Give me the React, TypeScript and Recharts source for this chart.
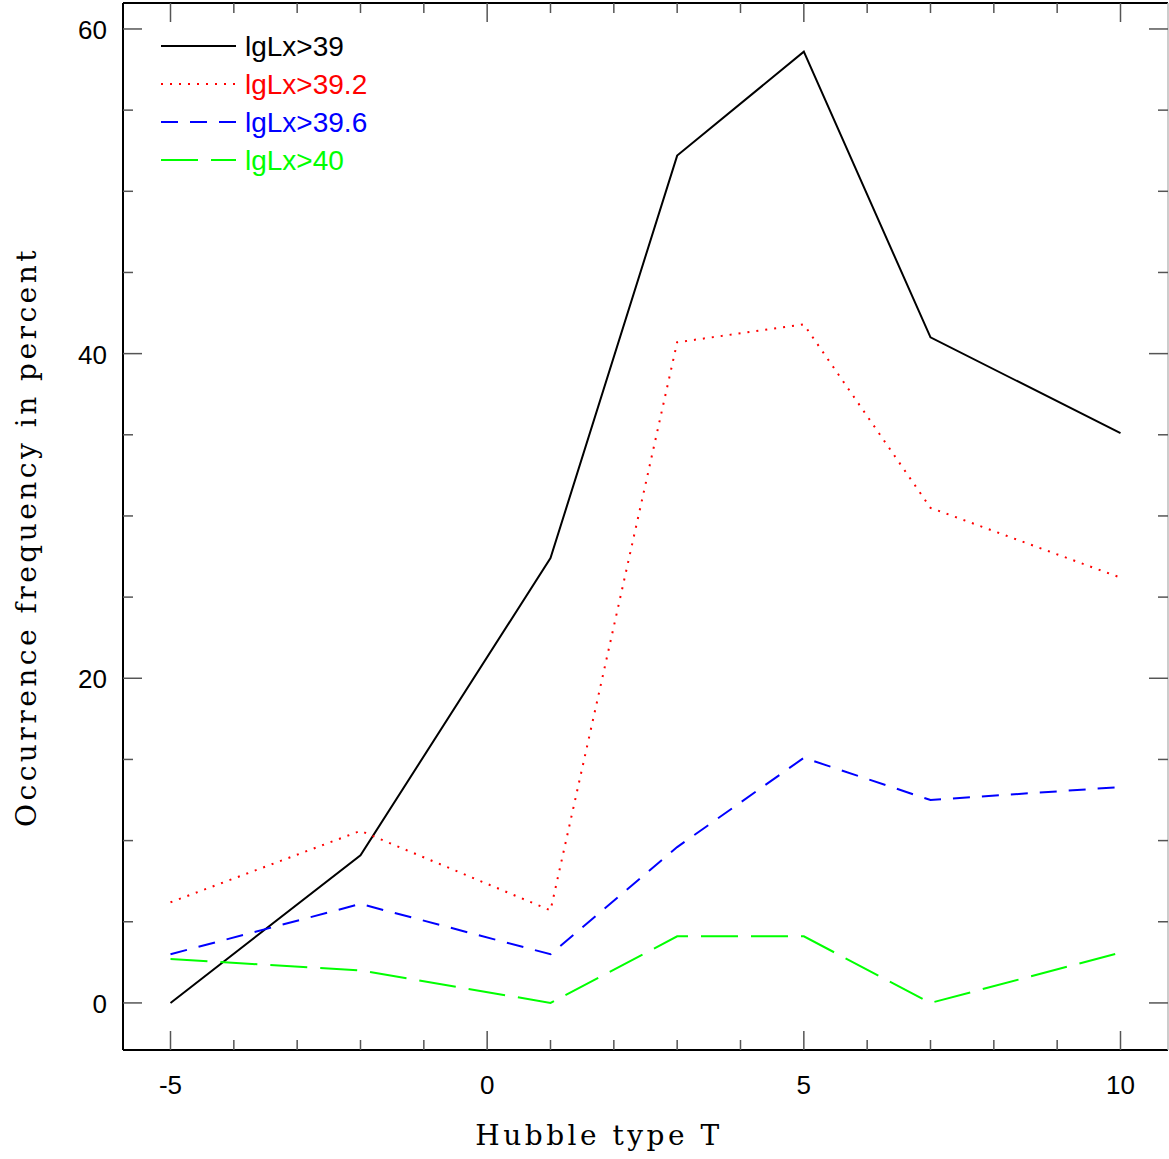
import React from "react";
import { LineChart, Line, XAxis, YAxis } from "recharts";

const hubbleT = [-5, -2, 1, 3, 5, 7, 10];
const lx39 = [0, 9.1, 27.4, 52.2, 58.6, 41.0, 35.1];
const lx392 = [6.2, 10.6, 5.7, 40.7, 41.8, 30.5, 26.2];
const lx396 = [3.0, 6.1, 3.0, 9.6, 15.1, 12.5, 13.3];
const lx40 = [2.7, 2.0, 0, 4.1, 4.1, 0, 3.1];

const xTicks = [-5, -4, -3, -2, -1, 0, 1, 2, 3, 4, 5, 6, 7, 8, 9, 10];
const yTicks = [0, 5, 10, 15, 20, 25, 30, 35, 40, 45, 50, 55, 60];

const series = [
  { key: "a", name: "lgLx>39", color: "#000000", dash: undefined as string | undefined },
  { key: "b", name: "lgLx>39.2", color: "#ff0000", dash: "2 7" },
  { key: "c", name: "lgLx>39.6", color: "#0000ff", dash: "17 12" },
  { key: "d", name: "lgLx>40", color: "#00ff00", dash: "37 13" },
];

const data = hubbleT.map((t, i) => ({ t, a: lx39[i], b: lx392[i], c: lx396[i], d: lx40[i] }));

const tickFont = "'Liberation Sans', Arial, sans-serif";
const serif = "'DejaVu Serif', 'Liberation Serif', serif";
const tickColor = "#555";

function BottomTick(props: any) {
  const { x, payload } = props;
  const v = payload.value;
  const major = v % 5 === 0;
  return (
    <g>
      <line x1={x} x2={x} y1={1050} y2={1050 - (major ? 19 : 10)} stroke={tickColor} strokeWidth={1.5} />
      {major && (
        <text x={x} y={1094} textAnchor="middle" fontFamily={tickFont} fontSize={26} fill="#000">
          {v}
        </text>
      )}
    </g>
  );
}

function TopTick(props: any) {
  const { x, payload } = props;
  const major = payload.value % 5 === 0;
  return <line x1={x} x2={x} y1={3} y2={3 + (major ? 19 : 10)} stroke={tickColor} strokeWidth={1.5} />;
}

function LeftTick(props: any) {
  const { y, payload } = props;
  const v = payload.value;
  const major = v % 20 === 0;
  return (
    <g>
      <line x1={123} x2={123 + (major ? 19 : 10)} y1={y} y2={y} stroke={tickColor} strokeWidth={1.5} />
      {major && (
        <text x={107} y={y + 10} textAnchor="end" fontFamily={tickFont} fontSize={26} fill="#000">
          {v}
        </text>
      )}
    </g>
  );
}

function RightTick(props: any) {
  const { y, payload } = props;
  const major = payload.value % 20 === 0;
  return <line x1={1168} x2={1168 - (major ? 19 : 10)} y1={y} y2={y} stroke={tickColor} strokeWidth={1.5} />;
}

function LegendBox() {
  return (
    <g>
      {series.map((s, i) => {
        const y = 46 + i * 38;
        return (
          <g key={s.key}>
            <line x1={161} x2={236} y1={y} y2={y} stroke={s.color} strokeWidth={2} strokeDasharray={s.dash} />
            <text x={245} y={y + 10} fontFamily={tickFont} fontSize={28} fill={s.color}>
              {s.name}
            </text>
          </g>
        );
      })}
    </g>
  );
}

export default function App() {
  return (
    <div style={{ position: "absolute", left: 0, top: 0, width: 1169, height: 1159, background: "#fff" }}>
      <LineChart width={1169} height={1159} data={data} margin={{ top: 2, right: 0, bottom: 108, left: 122 }}>
        <XAxis
          xAxisId="bottom"
          dataKey="t"
          type="number"
          domain={[-5.75, 10.75]}
          ticks={xTicks}
          allowDataOverflow
          height={1}
          tickSize={0}
          tickMargin={0}
          tickLine={false}
          axisLine={{ stroke: "#000", strokeWidth: 2 }}
          tick={<BottomTick />}
          interval={0}
        />
        <XAxis
          xAxisId="top"
          orientation="top"
          dataKey="t"
          type="number"
          domain={[-5.75, 10.75]}
          ticks={xTicks}
          allowDataOverflow
          height={1}
          tickSize={0}
          tickMargin={0}
          tickLine={false}
          axisLine={{ stroke: "#000", strokeWidth: 2 }}
          tick={<TopTick />}
          interval={0}
        />
        <YAxis
          yAxisId="left"
          type="number"
          domain={[-2.9, 61.6]}
          ticks={yTicks}
          allowDataOverflow
          width={1}
          tickSize={0}
          tickMargin={0}
          tickLine={false}
          axisLine={{ stroke: "#000", strokeWidth: 2 }}
          tick={<LeftTick />}
          interval={0}
        />
        <YAxis
          yAxisId="right"
          orientation="right"
          type="number"
          domain={[-2.9, 61.6]}
          ticks={yTicks}
          allowDataOverflow
          width={1}
          tickSize={0}
          tickMargin={0}
          tickLine={false}
          axisLine={{ stroke: "#bbb", strokeWidth: 1.5 }}
          tick={<RightTick />}
          interval={0}
        />
        {series.map((s) => (
          <Line
            key={s.key}
            xAxisId="bottom"
            yAxisId="left"
            type="linear"
            dataKey={s.key}
            name={s.name}
            stroke={s.color}
            strokeWidth={2}
            strokeDasharray={s.dash}
            dot={false}
            activeDot={false}
            isAnimationActive={false}
          />
        ))}
        <LegendBox />
        <text x={599} y={1145} textAnchor="middle" fontFamily={serif} fontSize={28} letterSpacing={3.5} fill="#000">
          Hubble type T
        </text>
        <text
          x={36}
          y={537}
          textAnchor="middle"
          fontFamily={serif}
          fontSize={28}
          letterSpacing={3.5}
          fill="#000"
          transform="rotate(-90 36 537)"
        >
          Occurrence frequency in percent
        </text>
      </LineChart>
    </div>
  );
}
